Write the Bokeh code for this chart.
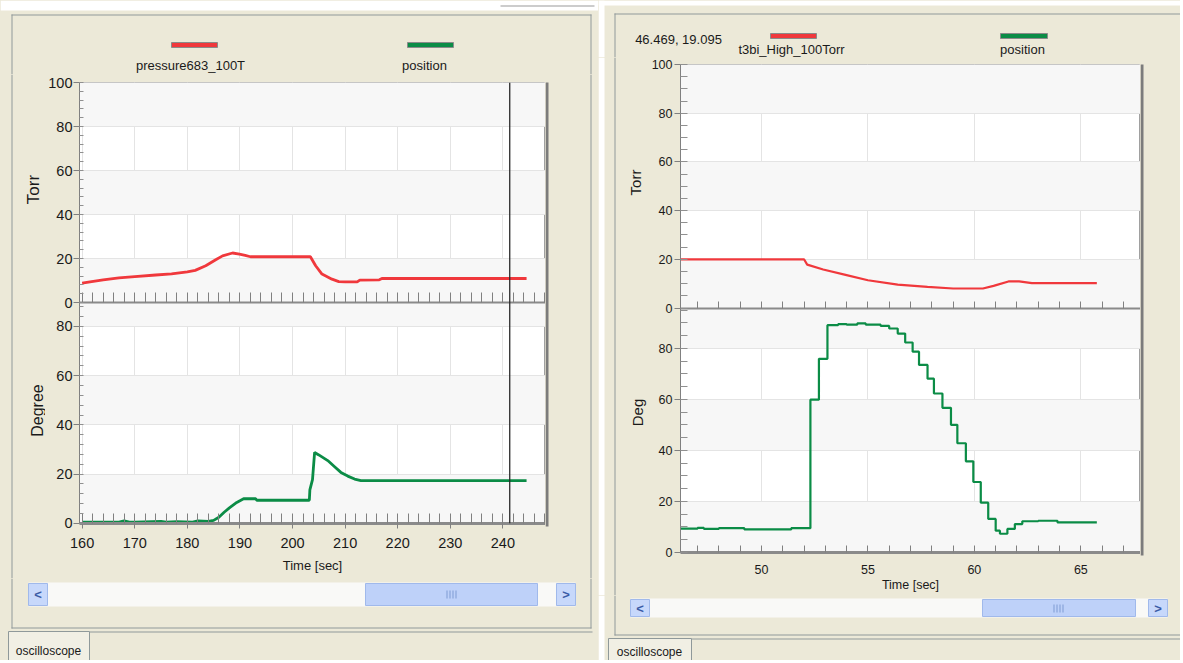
from math import pi
from bokeh.plotting import figure
from bokeh.models import (Range1d, LinearAxis, FixedTicker, SingleIntervalTicker,
                          Grid, Span, CustomJSTickFormatter, Plot)
from bokeh.layouts import row, column
from bokeh.core.properties import value
from bokeh.embed import file_html
from bokeh.resources import INLINE

# ---------------- data ----------------
L_T_TORR = [160, 161.5, 164, 167, 170, 174, 177, 180, 181.5, 183.5, 185.4, 186.7, 188.6,
            189.9, 191, 192, 197, 203.4, 204.4, 205.6, 207.5, 208.8, 210, 212.3, 212.8,
            216.5, 217, 244.5]
L_TORR = [8.8, 9.4, 10.3, 11.2, 11.8, 12.5, 13.0, 13.9, 14.6, 16.7, 19.4, 21.2, 22.5,
          22.0, 21.4, 20.8, 20.8, 20.8, 16.7, 12.9, 10.6, 9.5, 9.4, 9.4, 10.2,
          10.3, 10.9, 10.9]
L_T_DEG = [160, 167, 168, 169, 170, 175, 176, 178, 181, 182, 184, 185, 186, 187, 188,
           189.4, 190.7, 193, 193.2, 203.2, 203.3, 203.8, 204.2, 205, 206.7, 208, 209.2,
           210.5, 211.8, 213, 244.5]
L_DEG = [0.5, 0.5, 1.0, 0.5, 0.5, 0.8, 0.5, 0.7, 0.5, 1.0, 0.8, 1.2, 2.5, 4.5, 6.3,
         8.5, 10.0, 10.0, 9.4, 9.4, 13.6, 17.8, 28.8, 27.8, 25.5, 23.0, 20.7,
         19.2, 18.0, 17.4, 17.4]
L_CURSOR = 241.3

R_T_TORR = [46.2, 52.0, 52.15, 52.9, 53.95, 55.0, 56.4, 57.8, 59.0, 60.4, 60.9, 61.6,
            62.1, 62.7, 65.75]
R_TORR = [20.0, 20.0, 17.8, 15.8, 13.6, 11.4, 9.6, 8.7, 8.0, 8.0, 9.1, 10.9,
          10.9, 10.2, 10.2]
R_T_DEG = [46.2, 47.0, 47.3, 48.0, 49.2, 51.0, 51.4, 52.3, 52.7, 53.1, 53.6, 54.0, 54.5,
           54.9, 55.6, 56.0, 56.4, 56.75, 57.1, 57.4, 57.8, 58.1, 58.5, 58.9, 59.2,
           59.6, 59.95, 60.3, 60.65, 61.0, 61.2, 61.55, 61.9, 62.25, 63.0, 63.9, 65.75]
R_DEG = [9.3, 9.6, 9.2, 9.5, 9.0, 9.0, 9.5, 59.9, 75.9, 89.1, 89.5, 89.3, 89.8,
         89.3, 88.8, 87.8, 85.8, 82.3, 78.7, 73.5, 68.1, 62.3, 56.7, 50.0, 42.8,
         35.7, 27.6, 19.5, 13.1, 8.5, 7.3, 9.2, 11.1, 12.2, 12.4, 11.8, 11.8]

TORR_TICKS = [0, 20, 40, 60, 80, 100]
DEG_TICKS = [0, 20, 40, 60, 80]
L_LEGEND = ["pressure683_100T", "position"]
R_LEGEND = ["t3bi_High_100Torr", "position"]
L_YLABELS = ["Torr", "Degree"]
R_YLABELS = ["Torr", "Deg"]
X_LABEL = "Time [sec]"
R_READOUT = "46.469, 19.095"
TAB_LABEL = "oscilloscope"

# ---------------- styles ----------------
BEIGE = "#ECE9D8"
RED = "#F0383C"
GREEN = "#0B8C46"
BAND = "#F7F7F7"
GRID = "#E4E4E4"
FRAME = "#8F999A"
TXT = "#1A1A1A"
SANS = "Liberation Sans"
HAS_FA = "frame_align" in Plot.properties()
BG_STYLE = {"background-color": BEIGE}


def noalign(p):
    if HAS_FA:
        p.frame_align = False
    return p


def canvas(x0, y0, x1, y1, bg=BEIGE):
    p = figure(width=x1 - x0, height=y1 - y0, x_range=Range1d(x0, x1),
               y_range=Range1d(y1, y0), output_backend="svg", toolbar_location=None,
               x_axis_type=None, y_axis_type=None, min_border=0,
               outline_line_color=None, background_fill_color=bg, border_fill_color=bg)
    return noalign(p)


def rect(p, x0, y0, x1, y1, fill=None, line=None, lw=1):
    p.quad(left=[x0], right=[x1], top=[y0], bottom=[y1],
           fill_color=fill if fill else "white", fill_alpha=1 if fill else 0,
           line_color=line if line else "black", line_alpha=1 if line else 0,
           line_width=lw)


def txt(p, x, y, s, size, color=TXT, angle=0.0, style="normal"):
    p.text(x=[x], y=[y], text=[s], text_font=value(SANS), text_font_size=value(size),
           text_color=color, angle=angle, text_align="center", text_baseline="middle",
           text_font_style=style)


def scrollbar(p, x0, y0, x1, y1, th0, th1):
    bw = 19
    rect(p, x0, y0, x1, y1, fill="#F9F9F7")
    rect(p, th0, y0 + 1, th1, y1 - 1, fill="#BED1F9", line="#A0B9EB")
    gm = round((th0 + th1) / 2)
    ym = round((y0 + y1) / 2)
    for k in range(4):
        xa = gm - 5 + 3 * k
        rect(p, xa, ym - 4, xa + 1, ym + 4, fill="#7F9BD3")
    for a, b, s in [(x0, x0 + bw, "<"), (x1 - bw, x1, ">")]:
        rect(p, a, y0 + 1, b, y1 - 1, fill="#C7D8FB", line="#A0B9EB")
        txt(p, (a + b) / 2, (y0 + y1) / 2, s, "13px", color="#3A5BA6", style="bold")


def plot_fig(c):
    fl, ft, fr, fb = c["frame"]
    x0, y0, x1, y1 = c["box"]
    sep = c["sep"]
    tscale = (sep - ft) / 100.0
    lo = -(fb - sep) / tscale
    d0 = -0.05
    d1 = d0 + (fb - ft) / c["dscale"]
    dtop = d0 + (fb - sep) / c["dscale"]

    def conv(d):
        return lo + (d - d0) * (100 - lo) / (d1 - d0)

    p = figure(width=x1 - x0, height=y1 - y0, output_backend="svg", toolbar_location=None,
               x_range=Range1d(*c["xr"]), y_range=Range1d(lo, 100),
               x_axis_type=None, y_axis_type=None,
               min_border_left=fl - x0, min_border_right=x1 - fr,
               min_border_top=ft - y0, min_border_bottom=y1 - fb)
    noalign(p)
    p.extra_y_ranges = {"deg": Range1d(d0, d1)}
    p.border_fill_color = BEIGE
    p.background_fill_color = "white"
    p.outline_line_color = "#A0A0A0"

    # grids (alternating bands)
    p.add_layout(Grid(dimension=0, ticker=SingleIntervalTicker(interval=c["xstep"]),
                      grid_line_color=GRID))
    p.add_layout(Grid(dimension=1, ticker=FixedTicker(ticks=TORR_TICKS), grid_line_color=GRID,
                      band_fill_color=BAND, band_fill_alpha=1))
    p.add_layout(Grid(dimension=1, y_range_name="deg",
                      ticker=FixedTicker(ticks=DEG_TICKS + [dtop, d1 - 1]),
                      grid_line_color=None, band_fill_color=BAND, band_fill_alpha=1))
    p.add_layout(Grid(dimension=1, y_range_name="deg", ticker=FixedTicker(ticks=DEG_TICKS),
                      grid_line_color=GRID))

    ym = c["yminor"]
    majors = TORR_TICKS + [conv(d) for d in DEG_TICKS]
    minors = list(range(0, 101, ym)) + [conv(d) for d in range(0, int(dtop) + 1, ym)]
    fmt = CustomJSTickFormatter(args=dict(lo=lo, d0=d0, d1=d1), code="""
        if (tick > -0.5) { return String(Math.round(tick)); }
        return String(Math.round(d0 + (tick - lo) * (d1 - d0) / (100 - lo)));
    """)
    yax = LinearAxis(ticker=FixedTicker(ticks=majors, minor_ticks=minors), formatter=fmt,
                     axis_line_color="#808080", major_tick_line_color="#808080",
                     minor_tick_line_color="#909090", major_tick_in=0,
                     major_tick_out=c["ytick_out"], minor_tick_in=c["minor_in_y"],
                     minor_tick_out=0, major_label_standoff=c["ystand"],
                     major_label_text_font=SANS, major_label_text_font_size=c["tfs"],
                     major_label_text_color=TXT)
    p.add_layout(yax, "left")

    sepax = LinearAxis(ticker=SingleIntervalTicker(interval=c["xstep"], num_minor_ticks=5),
                       fixed_location=0, axis_line_color="#8A8A8A", axis_line_width=2,
                       major_tick_in=0, major_tick_out=0, minor_tick_in=c["minor_in_x"],
                       minor_tick_out=0, minor_tick_line_color="#808080",
                       major_label_text_font_size="0px", major_label_text_alpha=0,
                       major_label_standoff=0)
    p.add_layout(sepax, "below")
    bx = LinearAxis(ticker=SingleIntervalTicker(interval=c["xstep"], num_minor_ticks=5),
                    axis_label=X_LABEL, axis_line_color="#8A8A8A", axis_line_width=3,
                    major_tick_in=0, major_tick_out=c["xtick_out"],
                    minor_tick_in=c["minor_in_x"], minor_tick_out=0,
                    major_tick_line_color="#808080", minor_tick_line_color="#808080",
                    major_label_standoff=c["xstand"], major_label_text_font=SANS,
                    major_label_text_font_size=c["tfs"], major_label_text_color=TXT,
                    axis_label_standoff=c["xlab_stand"], axis_label_text_font=SANS,
                    axis_label_text_font_size=c["lfs"], axis_label_text_font_style="normal",
                    axis_label_text_color=TXT)
    p.add_layout(bx, "below")

    # data
    p.line(c["t_torr"], c["torr"], line_color=RED, line_width=c["lw"])
    if c["step"]:
        p.step(c["t_deg"], c["deg"], mode="after", y_range_name="deg",
               line_color=GREEN, line_width=c["lw"])
    else:
        p.line(c["t_deg"], c["deg"], y_range_name="deg", line_color=GREEN, line_width=c["lw"])
    if c.get("cursor") is not None:
        p.add_layout(Span(location=c["cursor"], dimension="height",
                          line_color="#2A2A2A", line_width=1.3))
    return p


# ================= left window =================
hL = canvas(0, 0, 598, 74)
rect(hL, 0, 0, 598, 10, fill="white")
rect(hL, 500, 5, 594, 6, fill="#9A9A9A")
rect(hL, 11, 14, 591, 15, fill=FRAME)
rect(hL, 11, 14, 12, 74, fill=FRAME)
rect(hL, 590, 14, 591, 74, fill=FRAME)
for (a, b), s, col, tx in zip([(171, 217), (407, 453)], L_LEGEND, [RED, GREEN], [190, 424]):
    rect(hL, a, 42, b, 47, fill=col, line="#8A8A8A")
    txt(hL, tx, 65, s, "13px")

lsL = canvas(0, 74, 45, 578)
rect(lsL, 11, 74, 12, 578, fill=FRAME)
txt(lsL, 33, 189, L_YLABELS[0], "17px", angle=pi / 2)
txt(lsL, 37, 410, L_YLABELS[1], "16px", angle=pi / 2)

pL = plot_fig(dict(
    frame=(77, 82, 545, 523), box=(45, 74, 545, 578), sep=302, dscale=2.4625,
    xr=(159.5, 248.1), xstep=10, yminor=4, minor_in_y=4, minor_in_x=10,
    ytick_out=6, ystand=1, xtick_out=5, xstand=9, xlab_stand=7,
    tfs="14.5px", lfs="13px", lw=2.8, step=False,
    t_torr=L_T_TORR, torr=L_TORR, t_deg=L_T_DEG, deg=L_DEG, cursor=L_CURSOR))

rsL = canvas(545, 74, 598, 578)
rect(rsL, 545, 82, 548, 526, fill="#7C7C7C")
rect(rsL, 590, 74, 591, 578, fill=FRAME)

fL = canvas(0, 578, 598, 660)
rect(fL, 11, 578, 12, 628, fill=FRAME)
rect(fL, 590, 578, 591, 628, fill=FRAME)
rect(fL, 11, 627, 591, 628, fill=FRAME)
scrollbar(fL, 28, 582, 575, 606, 365, 537)
rect(fL, 89, 631, 592, 632, fill=FRAME)
rect(fL, 8, 631, 89, 662, fill="#F1EFE4", line=FRAME)
txt(fL, 48, 650, TAB_LABEL, "12px")

left = column(hL, row(lsL, pL, rsL, styles=BG_STYLE), fL, styles=BG_STYLE)

# ================= right window =================
hR = canvas(598, 0, 1180, 57)
rect(hR, 598, 0, 1180, 5, fill="white")
rect(hR, 598, 0, 604, 57, fill="white")
rect(hR, 614, 13, 1180, 14, fill=FRAME)
rect(hR, 614, 13, 615, 57, fill=FRAME)
txt(hR, 678, 39, R_READOUT, "13px")
for (a, b), s, col, tx in zip([(770, 816), (1000, 1047)], R_LEGEND, [RED, GREEN], [791, 1022]):
    rect(hR, a, 33, b, 38, fill=col, line="#8A8A8A")
    txt(hR, tx, 49, s, "13px")

lsR = canvas(598, 57, 648, 595)
rect(lsR, 598, 57, 604, 595, fill="white")
rect(lsR, 614, 57, 615, 595, fill=FRAME)
txt(lsR, 635, 182, R_YLABELS[0], "15px", angle=pi / 2)
txt(lsR, 637, 412, R_YLABELS[1], "15px", angle=pi / 2)

pR = plot_fig(dict(
    frame=(680, 64, 1140, 552), box=(648, 57, 1140, 595), sep=307.5, dscale=2.55,
    xr=(46.2, 67.8), xstep=5, yminor=5, minor_in_y=7, minor_in_x=7,
    ytick_out=6, ystand=2, xtick_out=0, xstand=12, xlab_stand=1,
    tfs="12.5px", lfs="12.5px", lw=2.2, step=True,
    t_torr=R_T_TORR, torr=R_TORR, t_deg=R_T_DEG, deg=R_DEG, cursor=None))

rsR = canvas(1140, 57, 1180, 595)
rect(rsR, 1140, 64, 1143, 555, fill="#7C7C7C")

fR = canvas(598, 595, 1180, 660)
rect(fR, 598, 595, 604, 660, fill="white")
rect(fR, 614, 595, 615, 635, fill=FRAME)
rect(fR, 614, 634, 1180, 635, fill=FRAME)
scrollbar(fR, 630, 598, 1167, 617, 982, 1135)
rect(fR, 691, 638, 1180, 639, fill=FRAME)
rect(fR, 608, 638, 691, 663, fill="#F1EFE4", line=FRAME)
txt(fR, 649, 651, TAB_LABEL, "12px")

right = column(hR, row(lsR, pR, rsR, styles=BG_STYLE), fR, styles=BG_STYLE)

layout = row(left, right)
open("out.html", "w").write(file_html(layout, INLINE))
